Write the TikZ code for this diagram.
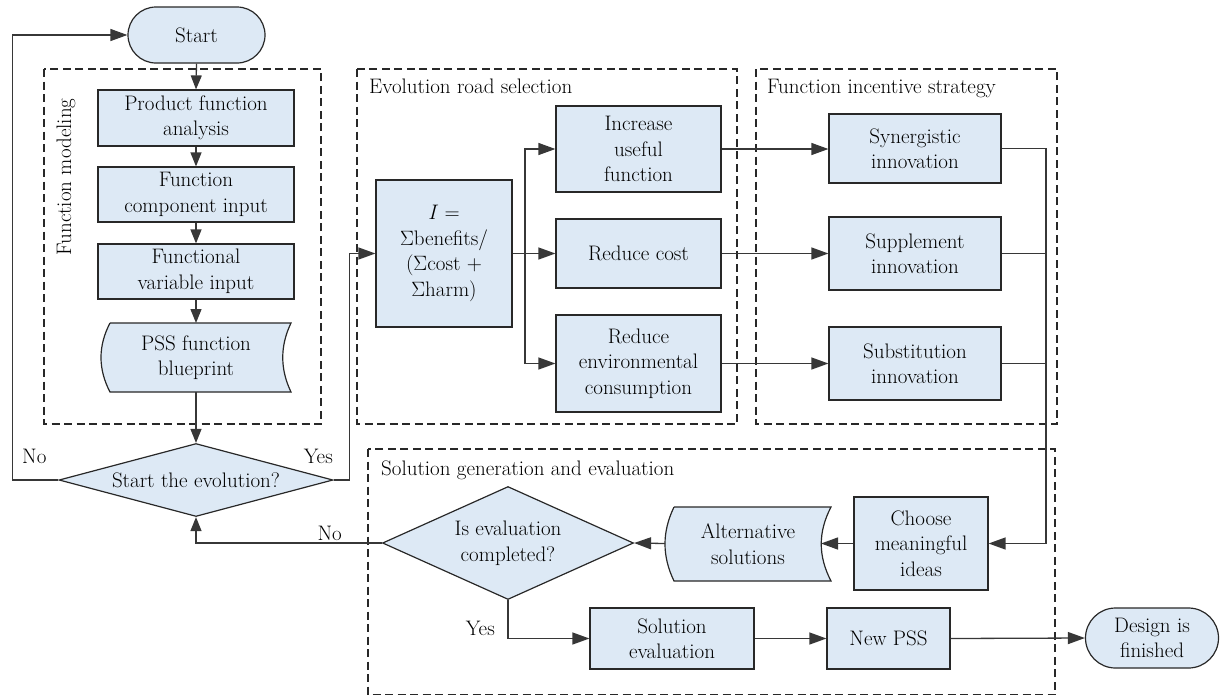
\documentclass[tikz,border=0pt]{standalone}
\usepackage{fontspec}
\usetikzlibrary{arrows.meta,calc,shapes.geometric}
\definecolor{boxfill}{RGB}{221,233,245}
\definecolor{boxline}{RGB}{40,40,40}
\definecolor{linec}{RGB}{55,55,55}
\definecolor{dashc}{RGB}{40,40,40}
\newcommand{\sigmasym}{$\Sigma$}
\begin{document}
\begin{tikzpicture}[x=1pt,y=-1pt,
  font=\fontsize{21}{25.5}\selectfont,
  procbox/.style={draw=boxline, fill=boxfill, line width=1.2pt, inner sep=0pt, align=center},
  termbox/.style={procbox, rounded corners=28pt},
  decbox/.style={diamond, draw=boxline, fill=boxfill, line width=1.2pt, inner sep=0pt, align=center},
  tapeshape/.style={draw=boxline, fill=boxfill, line width=1.2pt},
  txtnode/.style={inner sep=0pt, align=center},
  groupbox/.style={draw=dashc, line width=1.2pt, dash pattern=on 8pt off 4.5pt},
  conn/.style={draw=linec, line width=1.3pt},
  harr/.style={conn, -{Triangle[length=17pt,width=12pt]}},
  varr/.style={conn, -{Triangle[length=14pt,width=11pt]}},
  lbl/.style={inner sep=0pt}
]
\useasboundingbox (0,0) rectangle (1223,697);

% group boxes
\draw[groupbox] (44,69) rectangle (321,424);
\draw[groupbox] (357,69) rectangle (737,424);
\draw[groupbox] (756,69) rectangle (1057,424);
\draw[groupbox] (368,449) rectangle (1055,694.5);

\node[lbl, rotate=90] (fmlabel) at (66,177) {Function modeling};
\node[lbl, anchor=base west] (erslabel) at (369,93) {Evolution road selection};
\node[lbl, anchor=base west] (fislabel) at (767,93) {Function incentive strategy};
\node[lbl, anchor=base west] (sgelabel) at (381,475) {Solution generation and evaluation};

% left column
\node[termbox, minimum width=137pt, minimum height=56pt] (start) at (196.5,35) {Start};
\node[procbox, minimum width=196pt, minimum height=56pt] (pfa) at (196,118) {Product function\\analysis};
\node[procbox, minimum width=196pt, minimum height=55pt] (fci) at (196,194.5) {Function\\component input};
\node[procbox, minimum width=196pt, minimum height=55pt] (fvi) at (196,271.5) {Functional\\variable input};
\draw[tapeshape] (110,323) -- (291,323) .. controls (280,346) and (280,369) .. (291,392)
  -- (110,392) .. controls (98,369) and (98,346) .. (110,323);
\node[txtnode, minimum width=181pt, minimum height=69pt] (pss) at (196,357.5) {PSS function\\blueprint};
\node[decbox, aspect=3.75, minimum width=274pt, minimum height=73pt] (sd) at (196,480) {Start the evolution?};

% evolution road selection
\node[procbox, minimum width=136pt, minimum height=147pt] (ibox) at (444,253.5) {\textit{I} =\\\sigmasym benefits/\\(\sigmasym cost +\\\sigmasym harm)};
\node[procbox, minimum width=165pt, minimum height=86pt] (inc) at (638.5,149) {Increase\\useful\\function};
\node[procbox, minimum width=165pt, minimum height=69pt] (rc) at (638.5,253.5) {Reduce cost};
\node[procbox, minimum width=165pt, minimum height=97pt] (re) at (638.5,363.5) {Reduce\\environmental\\consumption};

% function incentive strategy
\node[procbox, minimum width=172pt, minimum height=69pt] (syn) at (915,148.5) {Synergistic\\innovation};
\node[procbox, minimum width=172pt, minimum height=73pt] (sup) at (915,253.5) {Supplement\\innovation};
\node[procbox, minimum width=172pt, minimum height=73pt] (sub) at (915,363.5) {Substitution\\innovation};

% solution generation
\node[procbox, minimum width=134pt, minimum height=93pt] (choose) at (921,543.5) {Choose\\meaningful\\ideas};
\draw[tapeshape] (674,507) -- (831,507) .. controls (818,532) and (818,556) .. (831,581)
  -- (674,581) .. controls (662,556) and (662,532) .. (674,507);
\node[txtnode, minimum width=157pt, minimum height=74pt] (alt) at (748,544) {Alternative\\solutions};
\node[decbox, aspect=2.22, minimum width=251pt, minimum height=113pt] (ed) at (508,543) {Is evaluation\\completed?};
\node[procbox, minimum width=164pt, minimum height=61pt] (seval) at (672,638.5) {Solution\\evaluation};
\node[procbox, minimum width=123pt, minimum height=61pt] (newpss) at (888.5,638.5) {New PSS};
\node[termbox, minimum width=133pt, minimum height=60pt, rounded corners=30pt] (design) at (1152,638) {Design is\\finished};

% coordinates
\coordinate (br) at (525,253.5);
\coordinate (cb) at (1046,543.5);
\coordinate (pssin) at (196,323);
\coordinate (altright) at (821,543.5);
\coordinate (altleft) at (665,543.5);

% connectors left column
\draw[varr] (start.south) -- (pfa.north);
\draw[varr] (pfa.south) -- (fci.north);
\draw[varr] (fci.south) -- (fvi.north);
\draw[varr] (fvi.south) -- (pssin);
\draw[varr] (pss.south) -- (sd.north);
\draw[harr] (sd.west) -- ++(-46,0) |- (start.west);
\draw[harr] (sd.east) -- ++(16,0) |- (ibox.west);
\node[lbl, anchor=base west] (nolbl1) at (22,463) {No};
\node[lbl, anchor=base east] (yeslbl1) at (333,463) {Yes};

% evolution branches
\draw[conn] (ibox.east) -- (br);
\draw[harr] (br) |- (inc.west);
\draw[harr] (br) -- (rc.west);
\draw[harr] (br) |- (re.west);
\draw[harr] (inc.east) -- (inc.east -| syn.west);
\draw[harr] (rc.east) -- (rc.east -| sup.west);
\draw[harr] (re.east) -- (re.east -| sub.west);

% collector
\draw[harr] (syn.east) -| (cb) -- (choose.east);
\draw[conn] (sup.east) -- (sup.east -| cb);
\draw[conn] (sub.east) -- (sub.east -| cb);

% solution generation connectors
\draw[harr] (choose.west) -- (altright);
\draw[harr] (altleft) -- (ed.east);
\draw[varr] (ed.west) -| (sd.south);
\node[lbl, anchor=base east] (nolbl2) at (342,540) {No};
\draw[harr] (ed.south) |- (seval.west);
\node[lbl, anchor=base east] (yeslbl2) at (495,635) {Yes};
\draw[harr] (seval.east) -- (newpss.west);
\draw[harr] (newpss.east) -- (design.west);
\end{tikzpicture}
\end{document}
